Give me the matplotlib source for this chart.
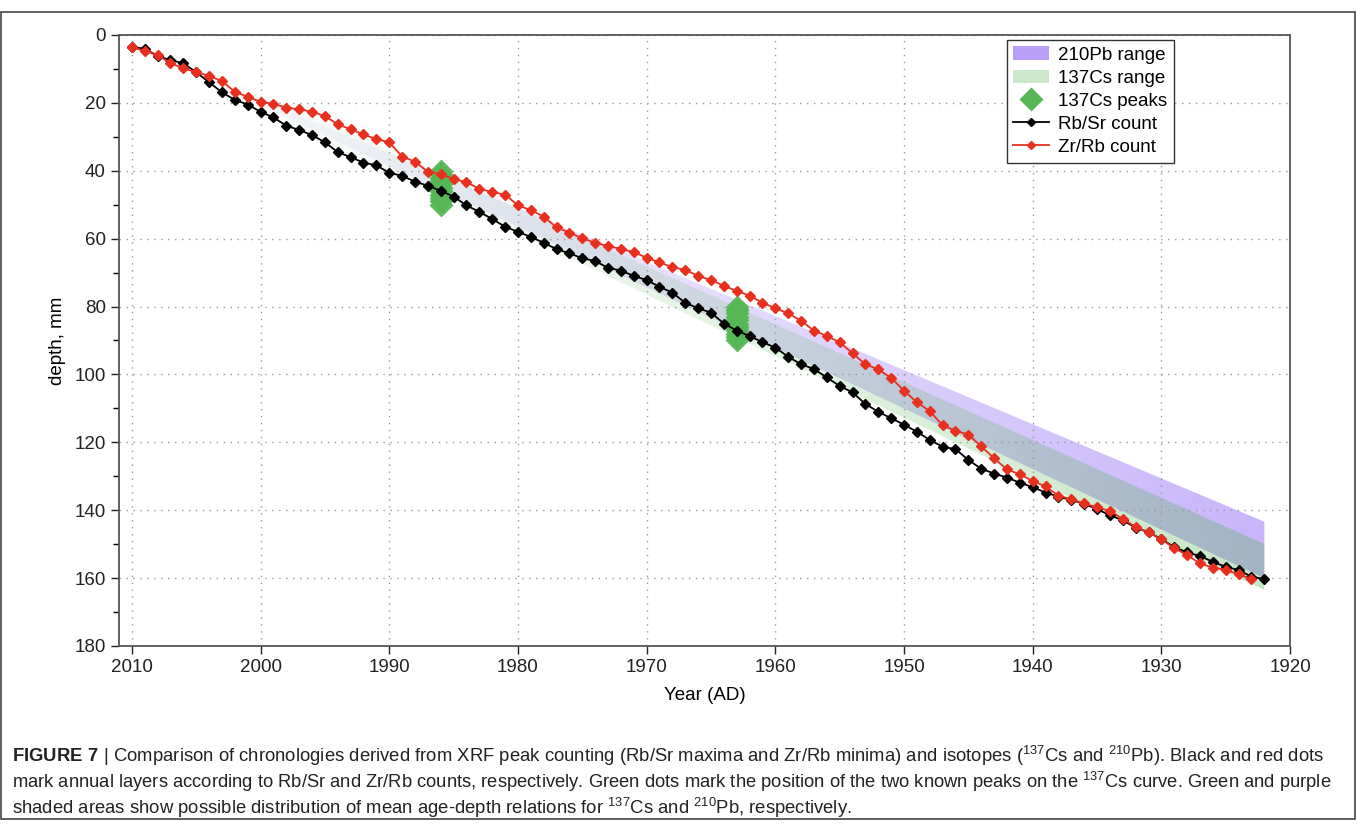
"""
Age-depth chronologies: XRF counting vs 137Cs / 210Pb
"""
import numpy as np
import matplotlib
matplotlib.use("Agg")
import matplotlib.pyplot as plt
from matplotlib.patches import Polygon, Patch
from matplotlib.lines import Line2D

plt.rcParams["font.family"] = ["Liberation Sans", "DejaVu Sans"]
plt.rcParams["mathtext.fontset"] = "custom"
plt.rcParams["mathtext.rm"] = "Liberation Sans"
plt.rcParams["mathtext.bf"] = "Liberation Sans:bold"

# Rb/Sr count (black), one point per year
rbsr_years = list(range(2010, 1921, -1))
rbsr_depth = [3.6, 4.0, 6.2, 7.4, 8.3, 11.0, 13.9, 16.9, 19.1, 20.5,
              22.6, 24.3, 26.7, 28.0, 29.5, 31.6, 34.5, 36.0, 37.6, 38.4,
              40.6, 41.5, 43.2, 44.4, 45.9, 47.6, 50.2, 52.1, 54.2, 56.5,
              58.0, 59.5, 61.2, 63.1, 64.3, 65.8, 66.6, 68.6, 69.4, 71.0,
              72.2, 74.2, 75.9, 78.9, 80.5, 81.8, 85.0, 87.1, 88.7, 90.5,
              92.1, 94.8, 97.0, 98.4, 100.9, 103.4, 105.3, 108.7, 111.0, 112.9,
              114.8, 116.9, 119.3, 121.3, 122.0, 125.2, 127.8, 129.2, 130.4, 131.9,
              133.2, 134.8, 136.0, 137.0, 138.1, 139.7, 141.5, 143.0, 145.1, 146.5,
              148.5, 150.9, 152.4, 153.5, 155.2, 156.7, 157.6, 159.6, 160.3]

# Zr/Rb count (red)
zrrb_years = list(range(2010, 1922, -1))
zrrb_depth = [3.6, 4.7, 5.9, 8.3, 9.8, 11.0, 12.0, 13.6, 16.7, 18.2,
              19.7, 20.3, 21.4, 21.9, 22.6, 23.9, 26.3, 27.8, 29.3, 30.7,
              31.6, 35.8, 37.3, 40.3, 41.0, 42.4, 43.4, 45.3, 46.3, 47.0,
              50.2, 51.6, 53.5, 56.7, 58.2, 59.9, 61.2, 62.2, 63.0, 64.0,
              65.6, 67.0, 68.4, 69.2, 71.0, 72.2, 73.9, 75.4, 76.8, 78.9,
              80.5, 82.0, 84.2, 87.1, 88.7, 90.5, 93.8, 97.0, 98.5, 101.0,
              104.8, 108.2, 110.8, 115.0, 116.6, 117.7, 121.2, 124.7, 128.0, 129.4,
              131.4, 133.0, 135.7, 136.8, 138.0, 139.2, 140.2, 142.6, 144.9, 146.5,
              148.6, 151.2, 153.2, 155.7, 156.9, 157.6, 158.9, 160.3]

# 137Cs peaks (stack of green diamonds)
peak1_year = 1986
peak1_depth = [40, 41, 42, 43, 44, 45, 46, 47, 48, 49, 50]
peak2_year = 1963
peak2_depth = [80, 81, 82, 83, 84, 85, 86, 87, 88, 89, 90]

# age-depth ranges (edges at start and end year)
band_years = [2010, 1922]
pb_top = [3.0, 143.4]
pb_bot = [3.0, 160.0]
cs_top = [0.0, 150.0]
cs_bot = [4.0, 163.5]

caption = [
    r"$\mathbf{FIGURE\ 7}$ | Comparison of chronologies derived from XRF peak counting "
    r"(Rb/Sr maxima and Zr/Rb minima) and isotopes ($^{137}$Cs and $^{210}$Pb). Black and red dots",
    r"mark annual layers according to Rb/Sr and Zr/Rb counts, respectively. Green dots mark the "
    r"position of the two known peaks on the $^{137}$Cs curve. Green and purple",
    r"shaded areas show possible distribution of mean age-depth relations for "
    r"$^{137}$Cs and $^{210}$Pb, respectively.",
]

fig = plt.figure(figsize=(13.58, 8.27), dpi=100)
ax = fig.add_axes([0.0876, 0.2189, 0.8624, 0.7388])


def gradient_band(ax, top, bot, rgb, amax):
    # fill band with alpha rising from left to right, clipped to the band polygon
    verts = [(band_years[0], top[0]), (band_years[1], top[1]),
             (band_years[1], bot[1]), (band_years[0], bot[0])]
    poly = Polygon(verts, closed=True, facecolor="none", edgecolor="none",
                   transform=ax.transData)
    ax.add_patch(poly)
    n = 400
    t = np.linspace(0, 1, n)
    img = np.zeros((1, n, 4))
    img[0, :, :3] = rgb
    img[0, :, 3] = amax * t ** 1.1
    im = ax.imshow(img, extent=[band_years[0], band_years[1], 180, 0],
                   aspect="auto", interpolation="bilinear", zorder=1)
    im.set_clip_path(poly)


pb_rgb = np.array([140, 100, 245]) / 255
cs_rgb = np.array([80, 180, 80]) / 255
gradient_band(ax, pb_top, pb_bot, pb_rgb, 0.48)
gradient_band(ax, cs_top, cs_bot, cs_rgb, 0.32)

peak_green = "#55b855"
ax.plot([peak1_year] * len(peak1_depth), peak1_depth, "D", color=peak_green,
        ms=12, mec="none", alpha=0.95, zorder=3)
ax.plot([peak2_year] * len(peak2_depth), peak2_depth, "D", color=peak_green,
        ms=12, mec="none", alpha=0.95, zorder=3)

ax.plot(rbsr_years, rbsr_depth, "-D", color="black", lw=1.3, ms=5, zorder=4)
ax.plot(zrrb_years, zrrb_depth, "-D", color="#e8301e", lw=1.3, ms=5, zorder=5)

ax.set_xlim(2011, 1920)
ax.set_ylim(180, 0)
ax.set_xticks(range(2010, 1919, -10))
ax.set_yticks(range(0, 181, 20))
ax.set_yticks(range(10, 180, 20), minor=True)
ax.grid(True, which="major", linestyle=(0, (1, 4)), color="#999999", lw=1.0)
ax.tick_params(labelsize=13.5, direction="out", length=6, width=1, colors="#222222")
ax.tick_params(which="minor", length=4, width=1)
for s in ax.spines.values():
    s.set_color("#555555")
    s.set_linewidth(1.3)
ax.set_xlabel("Year (AD)", fontsize=13.5, labelpad=8)
ax.set_ylabel("depth, mm", fontsize=13.5, labelpad=6)

handles = [
    Patch(facecolor=(0.72, 0.62, 0.97), edgecolor="none", label="210Pb range"),
    Patch(facecolor=(0.80, 0.91, 0.80), edgecolor="none", label="137Cs range"),
    Line2D([], [], ls="none", marker="D", color=peak_green, ms=12, mec="none",
           label="137Cs peaks"),
    Line2D([], [], color="black", marker="D", lw=1.3, ms=4, label="Rb/Sr count"),
    Line2D([], [], color="#e8301e", marker="D", lw=1.3, ms=4, label="Zr/Rb count"),
]
leg = ax.legend(handles=handles, loc="upper left", bbox_to_anchor=(0.758, 0.992),
                fontsize=13.5, fancybox=False, framealpha=1, edgecolor="#333333",
                borderpad=0.35, labelspacing=0.32, handlelength=1.9, handletextpad=0.5,
                borderaxespad=0)
leg.get_frame().set_linewidth(1.0)

# caption, stretched to the reference line widths
ys = [0.078, 0.047, 0.016]
widths = [1306, 1318, 838]
texts = [fig.text(0.009, y, c, fontsize=12, color="#222222", va="baseline")
         for y, c in zip(ys, caption)]
fig.canvas.draw()
r = fig.canvas.get_renderer()
for t, w in zip(texts, widths):
    cur = t.get_window_extent(r).width
    t.set_fontsize(12 * w / cur)

# outer frame around the whole figure
fig.add_artist(plt.Rectangle((0.001, 0.01), 0.997, 0.975, transform=fig.transFigure,
                             fill=False, edgecolor="#444444", lw=1.2))

fig.savefig("out.png", dpi=100)
